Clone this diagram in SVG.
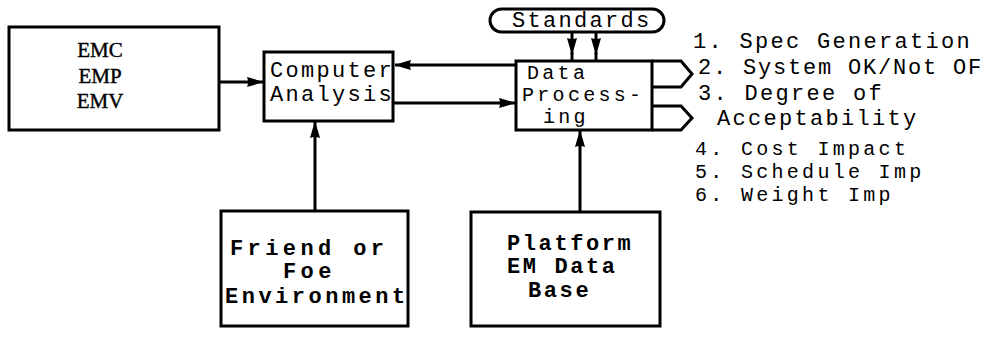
<svg xmlns="http://www.w3.org/2000/svg" width="985" height="337" viewBox="0 0 985 337">
<style>
.box{fill:#fff;stroke:#000;stroke-width:3}
.ln{fill:none;stroke:#000;stroke-width:3}
.serif{font-family:"Liberation Serif","Times New Roman",serif;font-size:21px;fill:#000;stroke:#000;stroke-width:0.4}
.mono{font-family:"Liberation Mono","Courier New",monospace;font-size:22px;fill:#000;letter-spacing:2.3px}
.sm{font-size:20px;letter-spacing:3.3px}
.bold{font-weight:bold}
</style>
<defs>
<marker id="ah" viewBox="0 0 16 12" refX="16" refY="6" markerWidth="16" markerHeight="12" markerUnits="userSpaceOnUse" orient="auto">
<path d="M0,1 Q8,3 16,6 Q8,9 0,11 Q2,6 0,1 Z" fill="#000"/>
</marker>
</defs>
<rect width="985" height="337" fill="#fff"/>
<g id="connectors">
<line class="ln" x1="219" y1="82" x2="263" y2="82" marker-end="url(#ah)"/>
<line class="ln" x1="516" y1="65" x2="395" y2="65" marker-end="url(#ah)"/>
<line class="ln" x1="393" y1="103" x2="515" y2="103" marker-end="url(#ah)"/>
<line class="ln" x1="315" y1="211" x2="315" y2="122" marker-end="url(#ah)"/>
<line class="ln" x1="580" y1="212" x2="580" y2="131" marker-end="url(#ah)"/>
<line class="ln" x1="572" y1="32" x2="572" y2="54" marker-end="url(#ah)"/>
<line class="ln" x1="572" y1="53" x2="572" y2="61"/>
<line class="ln" x1="596" y1="32" x2="596" y2="54" marker-end="url(#ah)"/>
<line class="ln" x1="596" y1="53" x2="596" y2="61"/>
</g>
<g id="emc">
<rect class="box" x="9" y="27" width="210" height="103"/>
<text class="serif" x="100" y="57" text-anchor="middle">EMC</text>
<text class="serif" x="100" y="83" text-anchor="middle">EMP</text>
<text class="serif" x="100" y="108" text-anchor="middle">EMV</text>
</g>
<g id="computer-analysis">
<rect class="box" x="264" y="52" width="129" height="69"/>
<text class="mono" x="270" y="77">Computer</text>
<text class="mono" x="270" y="101">Analysis</text>
</g>
<g id="standards">
<rect class="box" x="490" y="9" width="174" height="23" rx="11.5"/>
<text class="mono" x="512" y="27">Standards</text>
</g>
<g id="data-processing">
<rect class="box" x="516" y="61" width="136" height="69"/>
<path class="ln" d="M652,61 H681 L692,74 L681,87 H652"/>
<path class="ln" d="M652,106 H681 L692,118 L681,130 H652"/>
<text class="mono sm" x="527" y="79">Data</text>
<text class="mono sm" x="522" y="101">Process-</text>
<text class="mono sm" x="543" y="123">ing</text>
</g>
<g id="friend-or-foe">
<rect class="box" x="221" y="211" width="187" height="115"/>
<text class="mono bold" x="230" y="255" style="letter-spacing:4.4px">Friend or</text>
<text class="mono bold" x="283" y="278" style="letter-spacing:4.4px">Foe</text>
<text class="mono bold" x="225" y="303" style="letter-spacing:3.5px">Environment</text>
</g>
<g id="platform">
<rect class="box" x="471" y="212" width="189" height="114"/>
<text class="mono bold" x="507" y="250" style="letter-spacing:2.6px">Platform</text>
<text class="mono bold" x="507" y="273" style="letter-spacing:2.6px">EM Data</text>
<text class="mono bold" x="528" y="297" style="letter-spacing:2.6px">Base</text>
</g>
<g id="outputs">
<text class="mono" x="693" y="48">1. Spec Generation</text>
<text class="mono" x="698" y="74" style="letter-spacing:1.8px">2. System OK/Not OF</text>
<text class="mono" x="698" y="100">3. Degree of</text>
<text class="mono" x="717" y="125">Acceptability</text>
<text class="mono sm" x="695" y="155">4. Cost Impact</text>
<text class="mono sm" x="695" y="178">5. Schedule Imp</text>
<text class="mono sm" x="695" y="201">6. Weight Imp</text>
</g>
</svg>
